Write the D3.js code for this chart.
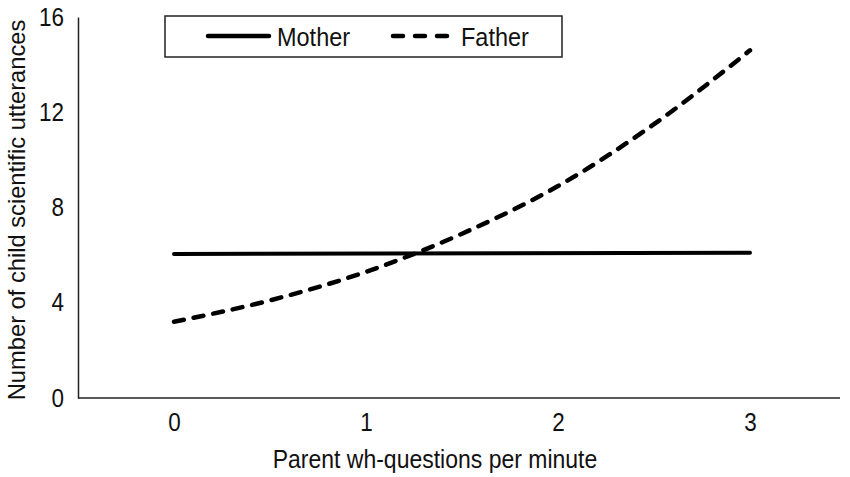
<!DOCTYPE html>
<html>
<head>
<meta charset="utf-8">
<script src="https://cdn.jsdelivr.net/npm/d3@7"></script>
<style>
  body { margin: 0; background: #fff; }
  text { font-family: "Liberation Sans", Arial, sans-serif; fill: #111; }
  .tall { transform-box: fill-box; transform-origin: center; transform: scaleY(1.12); }
</style>
</head>
<body>
<svg width="850" height="477"></svg>
<script>
// data
var xTicks = [0, 1, 2, 3];
var yTicks = [0, 4, 8, 12, 16];
var motherX = [0, 3];
var motherY = [6.05, 6.1];
var fatherX = [0, 0.5, 1, 1.5, 2, 2.5, 3];
var fatherY = [3.2, 4.1, 5.3, 6.9, 8.9, 11.5, 14.6];

var svg = d3.select('svg');
var plotLeft = 78, plotRight = 840, plotTop = 17, plotBottom = 398;

var x = d3.scaleLinear().domain([-0.5, 3.5]).range([plotLeft, plotLeft + 4 * 192]);
var y = d3.scaleLinear().domain([0, 16]).range([plotBottom, plotTop]);

// axes
var xAxis = svg.append('g').attr('transform', 'translate(0,' + plotBottom + ')')
    .call(d3.axisBottom(x).tickValues(xTicks).tickSize(0).tickPadding(16).tickFormat(d3.format('d')));
xAxis.select('.domain').attr('d', 'M' + plotLeft + ',0H' + plotRight).attr('stroke', '#222').attr('stroke-width', 1.5);
xAxis.selectAll('text').style('font-size', '22.5px').attr('class', 'tall');

var yAxis = svg.append('g').attr('transform', 'translate(' + plotLeft + ',0)')
    .call(d3.axisLeft(y).tickValues(yTicks).tickSize(0).tickPadding(14));
yAxis.select('.domain').attr('stroke', '#222').attr('stroke-width', 1.5);
yAxis.selectAll('text').style('font-size', '22.5px').attr('class', 'tall');
svg.selectAll('.tick text').attr('fill', '#111');

// titles
svg.append('text').attr('x', 435).attr('y', 467).attr('text-anchor', 'middle')
    .attr('class', 'tall').style('font-size', '23px').text('Parent wh-questions per minute');
svg.append('text').attr('transform', 'translate(25,' + 210 + ') rotate(-90)')
    .attr('text-anchor', 'middle').style('font-size', '23.7px')
    .text('Number of child scientific utterances');

var line = d3.line().x(function(d){ return x(d[0]); }).y(function(d){ return y(d[1]); });

svg.append('path')
    .datum(d3.zip(motherX, motherY))
    .attr('d', line)
    .attr('fill', 'none').attr('stroke', '#000').attr('stroke-width', 4).attr('stroke-linecap', 'round');

svg.append('path')
    .datum(d3.zip(fatherX, fatherY))
    .attr('d', line.curve(d3.curveMonotoneX))
    .attr('fill', 'none').attr('stroke', '#000').attr('stroke-width', 4.5)
    .attr('stroke-linecap', 'round').attr('stroke-dasharray', '10,10');

// legend
var lg = svg.append('g');
lg.append('rect').attr('x', 165).attr('y', 16).attr('width', 397).attr('height', 41)
    .attr('fill', '#fff').attr('stroke', '#222').attr('stroke-width', 1.5);
lg.append('line').attr('x1', 208).attr('x2', 269).attr('y1', 36).attr('y2', 36)
    .attr('stroke', '#000').attr('stroke-width', 4.5).attr('stroke-linecap', 'round');
lg.append('text').attr('x', 277).attr('y', 45).attr('class', 'tall').style('font-size', '23.5px').text('Mother');
lg.append('line').attr('x1', 393).attr('x2', 447).attr('y1', 36).attr('y2', 36)
    .attr('stroke', '#000').attr('stroke-width', 4.5).attr('stroke-linecap', 'round')
    .attr('stroke-dasharray', '10,12');
lg.append('text').attr('x', 461).attr('y', 45).attr('class', 'tall').style('font-size', '23.5px').text('Father');
</script>
</body>
</html>
